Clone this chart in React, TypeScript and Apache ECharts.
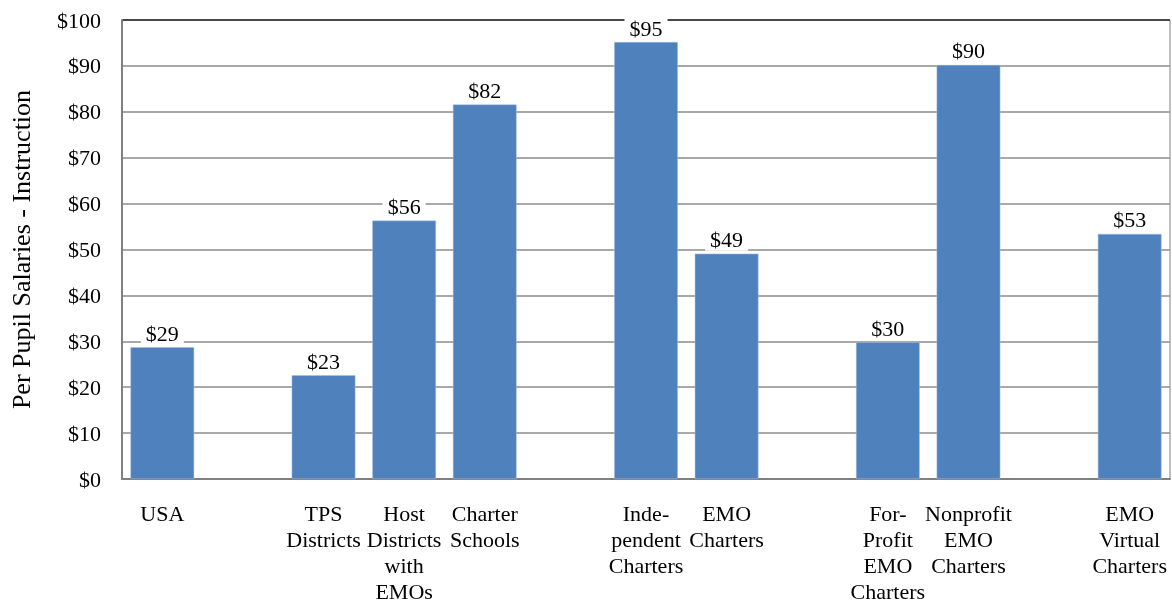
import React, { useEffect, useRef } from "react";
import * as echarts from "echarts";

const categories = [
  "USA",
  "",
  "TPS\nDistricts",
  "Host\nDistricts\nwith\nEMOs",
  "Charter\nSchools",
  "",
  "Inde-\npendent\nCharters",
  "EMO\nCharters",
  "",
  "For-\nProfit\nEMO\nCharters",
  "Nonprofit\nEMO\nCharters",
  "",
  "EMO\nVirtual\nCharters",
];

const values: (number | string)[] = [28.7, "-", 22.6, 56.3, 81.6, "-", 95.2, 49.1, "-", 29.8, 90.2, "-", 53.4];

const yMin = 0;
const yMax = 100;
const yInterval = 10;

const FONT = "Liberation Serif";

export default function App() {
  const ref = useRef<HTMLDivElement>(null);
  useEffect(() => {
    const chart = echarts.init(ref.current!, null, { renderer: "svg" });
    const gridColors = Array.from({ length: 11 }, (_, i) => (i === 10 ? "#222" : "#8c8c8c"));
    chart.setOption({
      animation: false,
      textStyle: { fontFamily: FONT },
      grid: {
        left: 120,
        right: 2,
        top: 20,
        bottom: 124,
        show: true,
        borderColor: "#808080",
        borderWidth: 1,
        backgroundColor: "transparent",
      },
      xAxis: {
        type: "category",
        data: categories,
        axisLine: { show: true, lineStyle: { color: "#808080", width: 2 } },
        axisTick: { show: false },
        axisLabel: {
          interval: 0,
          color: "#000",
          fontFamily: FONT,
          fontSize: 22,
          lineHeight: 26,
          margin: 21,
          align: "center",
        },
      },
      yAxis: {
        type: "value",
        min: yMin,
        max: yMax,
        interval: yInterval,
        name: "Per Pupil Salaries - Instruction",
        nameLocation: "middle",
        nameGap: 88,
        nameTextStyle: { color: "#000", fontFamily: FONT, fontSize: 26 },
        axisLine: { show: true, lineStyle: { color: "#808080", width: 2 } },
        axisTick: { show: false },
        splitLine: { show: true, lineStyle: { color: gridColors, width: 1.5 } },
        axisLabel: {
          color: "#000",
          fontFamily: FONT,
          fontSize: 22,
          margin: 21,
          formatter: (v: number) => `$${v}`,
        },
      },
      series: [
        {
          type: "bar",
          data: values,
          barCategoryGap: "21%",
          itemStyle: { color: "#4f81bd", borderColor: "#a9c2e3", borderWidth: 0.5 },
          label: {
            show: true,
            position: "top",
            distance: 3,
            color: "#000",
            fontFamily: FONT,
            fontSize: 22,
            backgroundColor: "#fff",
            padding: [0, 5],
            formatter: (p: any) => `$${Math.round(p.value)}`,
          },
        },
      ],
    });
    return () => chart.dispose();
  }, []);
  return <div ref={ref} style={{ position: "fixed", left: 0, top: 0, width: 1172, height: 604 }} />;
}
